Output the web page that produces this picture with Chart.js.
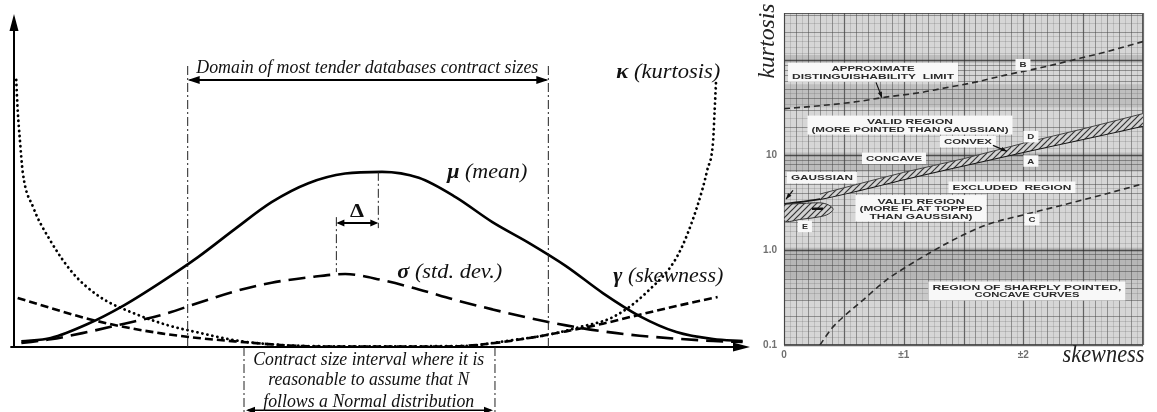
<!DOCTYPE html>
<html>
<head>
<meta charset="utf-8">
<script src="https://cdn.jsdelivr.net/npm/chart.js@4.4.1/dist/chart.umd.min.js"></script>
<style>
html, body { margin: 0; padding: 0; background: #fff; overflow: hidden; }
#wrap { position: relative; width: 1157px; height: 412px; }
#left { position: absolute; left: 0; top: 0; }
#right { position: absolute; left: 750px; top: 0; }
</style>
</head>
<body>
<div id="wrap">
<canvas id="left" width="760" height="412"></canvas>
<canvas id="right" width="407" height="412"></canvas>
</div>
<script>
// ---- left panel: moments of N against contract size (arbitrary 0-100 units) ----
var sizeGrid   = [1, 5, 10, 15, 20, 25, 30, 35, 40, 45, 50, 55, 60, 65, 70, 75, 80, 85, 90, 95, 99];
var meanValues = [1.7, 2.7, 6.9, 12.6, 19.5, 27.0, 35.4, 43.5, 49.2, 52.1, 52.6, 50.8, 45.0, 37.5, 31.2, 24.3, 16.2, 9.3, 4.5, 2.4, 1.8];
var stdValues  = [1.2, 2.3, 4.5, 7.0, 9.6, 13.2, 16.7, 19.3, 20.9, 21.9, 20.1, 17.3, 14.1, 11.3, 8.7, 6.5, 4.7, 3.4, 2.5, 1.8, 1.5];

var skewSizes  = [0.5, 5, 10, 15, 20, 25, 30, 35, 40, 45, 50, 55, 60, 65, 70, 75, 80, 85, 90, 95.6];
var skewValues = [14.7, 11.7, 8.5, 6.0, 4.1, 2.7, 1.7, 0.8, 0.2, 0.1, 0.1, 0.1, 0.2, 1.1, 2.7, 4.7, 7.0, 9.7, 12.3, 15.0];

var kurtSizes  = [0.3, 0.5, 0.8, 1.2, 2.6, 4.9, 8.0, 11.7, 16.2, 20.8, 25.3, 29.8, 34.4, 43.3, 49.7, 61.0, 67.8, 72.4, 76.9, 81.4, 86.0, 90.2, 92.8, 94.2, 95.0, 95.2, 95.4];
var kurtValues = [80.2, 71.2, 62.2, 52.3, 42.0, 32.1, 22.2, 15.0, 10.2, 6.6, 4.2, 2.1, 0.9, 0.2, 0.2, 0.3, 2.1, 3.6, 6.0, 9.0, 16.5, 27.6, 42.0, 53.2, 62.2, 71.2, 80.2];

var domainEdges = [23.6, 72.6];     // contract sizes covered by most tender databases
var normalEdges = [31.25, 65.35];   // interval where N ~ Normal
var meanPeak = 49.5, stdPeak = 43.8;

// ---- right panel: kurtosis vs skewness (log) ----
var limitSkew  = [0, 0.3, 0.6, 0.85, 1.15, 1.3, 1.6, 1.85, 2.15, 2.4, 2.7, 3.0];
var limitKurt  = [31, 33.3, 36.6, 41, 46, 50, 59, 70, 84, 100, 124, 158];
var gaussSkew  = [0, 0.3, 0.6, 1.0, 1.5, 2.0, 2.5, 3.0];
var gaussKurt  = [3.05, 3.45, 4.2, 5.6, 7.8, 10.8, 14.8, 20.5];
var convexSkew = [0.3, 0.6, 1.0, 1.5, 2.0, 2.5, 3.0];
var convexKurt = [3.9, 4.9, 6.6, 9.2, 13.4, 19.0, 27.5];
var flatSkew   = [0, 0.15, 0.3, 0.37, 0.41, 0.37, 0.3, 0.15, 0, 0];
var flatKurt   = [3.05, 3.1, 3.15, 3.0, 2.7, 2.4, 2.25, 2.12, 2.05, 3.05];
var sharpSkew  = [0.30, 0.40, 0.50, 0.65, 0.86, 1.0, 1.22, 1.5, 1.72, 2.03, 2.58, 3.0];
var sharpKurt  = [0.10, 0.15, 0.20, 0.29, 0.49, 0.64, 0.94, 1.45, 1.9, 2.4, 3.6, 5.0];

var skewTicks = [0, 1, 2];
var skewTickLabels = ['0', '\u00b11', '\u00b12'];
var kurtTicks = [0.1, 1, 10];
var kurtTickLabels = ['0.1', '1.0', '10'];

var SERIF = "'Liberation Serif', 'DejaVu Serif', serif";
function it(s) { return 'italic ' + s + 'px ' + SERIF; }
function bi(s) { return 'italic bold ' + s + 'px ' + SERIF; }
var dashDot = [9, 3, 2, 3];

function pts(xs, ys) {
    return xs.map(function (x, i) { return { x: x, y: ys[i] }; });
}

// draw a run of text pieces squeezed to a given width
function fitText(ctx, parts, cx, cy, width, baseline) {
    var total = 0;
    parts.forEach(function (p) { ctx.font = p.f; p.w = ctx.measureText(p.t).width; total += p.w; });
    ctx.save();
    ctx.translate(cx, cy);
    ctx.scale(width / total, 1);
    ctx.textAlign = 'left';
    ctx.textBaseline = baseline || 'middle';
    var x = -total / 2;
    parts.forEach(function (p) { ctx.font = p.f; ctx.fillText(p.t, x, 0); x += p.w; });
    ctx.restore();
}

function seg(ctx, x1, y1, x2, y2) {
    ctx.beginPath(); ctx.moveTo(x1, y1); ctx.lineTo(x2, y2); ctx.stroke();
}

function head(ctx, x, y, ang, len, half) {
    var c = Math.cos(ang), s = Math.sin(ang);
    ctx.beginPath();
    ctx.moveTo(x, y);
    ctx.lineTo(x - len * c + half * s, y - len * s - half * c);
    ctx.lineTo(x - len * c - half * s, y - len * s + half * c);
    ctx.closePath();
    ctx.fill();
}

function doubleArrow(ctx, x1, x2, y, len, half) {
    seg(ctx, x1 + 2, y, x2 - 2, y);
    head(ctx, x1, y, Math.PI, len, half);
    head(ctx, x2, y, 0, len, half);
}

var leftLabels = [
    { parts: [{ t: 'Domain of most tender databases contract sizes', f: it(19) }], x: 48.0, y: 83.8, w: 342 },
    { parts: [{ t: '\u03ba', f: bi(20) }, { t: ' (kurtosis)', f: it(20) }], x: 88.9, y: 82.3, w: 104 },
    { parts: [{ t: '\u03bc', f: bi(20) }, { t: ' (mean)', f: it(20) }], x: 64.3, y: 52.3, w: 80 },
    { parts: [{ t: '\u03c3', f: bi(20) }, { t: ' (std. dev.)', f: it(20) }], x: 59.2, y: 22.2, w: 105 },
    { parts: [{ t: '\u03b3', f: bi(20) }, { t: ' (skewness)', f: it(20) }], x: 88.9, y: 21.0, w: 110 },
    { parts: [{ t: '\u0394', f: 'bold 18px ' + SERIF }], x: 46.6, y: 40.5, w: 14 },
    { parts: [{ t: 'Contract size interval where it is', f: it(19) }], x: 48.2, y: -3.9, w: 231 },
    { parts: [{ t: 'reasonable to assume that N', f: it(19) }], x: 48.2, y: -9.9, w: 201 },
    { parts: [{ t: 'follows a Normal distribution', f: it(19) }], x: 48.2, y: -16.5, w: 211 }
];

var leftMarks = {
    id: 'leftMarks',
    afterDatasetsDraw: function (chart) {
        var ctx = chart.ctx;
        var X = function (v) { return chart.scales.x.getPixelForValue(v); };
        var Y = function (v) { return chart.scales.y.getPixelForValue(v); };
        ctx.save();
        ctx.strokeStyle = '#000';
        ctx.fillStyle = '#000';

        // axes
        ctx.lineWidth = 2;
        seg(ctx, X(-0.5), Y(0), X(100) - 10, Y(0));
        seg(ctx, X(0), Y(0), X(0), Y(100) + 10);
        head(ctx, X(100), Y(0), 0, 17, 4.5);
        head(ctx, X(0), Y(100), -Math.PI / 2, 17, 4.5);

        // dash-dot guides
        ctx.lineWidth = 1;
        ctx.strokeStyle = '#222';
        ctx.setLineDash(dashDot);
        domainEdges.forEach(function (v) { seg(ctx, X(v), Y(0), X(v), Y(84.4)); });
        normalEdges.forEach(function (v) { seg(ctx, X(v), Y(0), X(v), Y(-21)); });
        seg(ctx, X(meanPeak), Y(52.6), X(meanPeak), Y(35.7));
        seg(ctx, X(stdPeak), Y(39.0), X(stdPeak), Y(22.5));
        ctx.setLineDash([]);

        // arrows
        ctx.strokeStyle = '#000';
        ctx.lineWidth = 2;
        doubleArrow(ctx, X(domainEdges[0]), X(domainEdges[1]), Y(80.2), 12, 4);
        doubleArrow(ctx, X(stdPeak), X(meanPeak), Y(37.2), 8, 3.5);
        ctx.lineWidth = 1.5;
        doubleArrow(ctx, X(normalEdges[0]) + 2, X(normalEdges[1]) - 2, Y(-19), 9, 3.5);

        // labels
        ctx.fillStyle = '#111';
        leftLabels.forEach(function (l) { fitText(ctx, l.parts, X(l.x), Y(l.y), l.w); });
        ctx.restore();
    }
};

new Chart(document.getElementById('left').getContext('2d'), {
    type: 'line',
    data: {
        datasets: [{
            label: 'mean',
            data: pts(sizeGrid, meanValues),
            borderColor: '#000',
            borderWidth: 2.6
        }, {
            label: 'std. dev.',
            data: pts(sizeGrid, stdValues),
            borderColor: '#000',
            borderWidth: 2.6,
            borderDash: [17, 8]
        }, {
            label: 'skewness',
            data: pts(skewSizes, skewValues),
            borderColor: '#000',
            borderWidth: 2.6,
            borderDash: [8, 4]
        }, {
            label: 'kurtosis',
            data: pts(kurtSizes, kurtValues),
            borderColor: '#000',
            borderWidth: 2.8,
            borderDash: [0.1, 5],
            borderCapStyle: 'round'
        }]
    },
    options: {
        responsive: false,
        animation: false,
        devicePixelRatio: 1,
        events: [],
        layout: { padding: { left: 14, right: 10, top: 14, bottom: 65 } },
        elements: {
            point: { radius: 0 },
            line: { cubicInterpolationMode: 'monotone', fill: false }
        },
        datasets: { line: { clip: false } },
        scales: {
            x: { type: 'linear', min: 0, max: 100, display: false },
            y: { type: 'linear', min: 0, max: 100, display: false }
        },
        plugins: { legend: { display: false }, tooltip: { enabled: false } }
    },
    plugins: [leftMarks]
});

// ---- right panel ----
var rightNotes = [
    { lines: ['APPROXIMATE', 'DISTINGUISHABILITY  LIMIT'], sk: 0.744, ku: 75, w: [83, 162] },
    { lines: ['B'], sk: 1.997, ku: 90, w: [7] },
    { lines: ['VALID REGION', '(MORE POINTED THAN GAUSSIAN)'], sk: 1.053, ku: 20.8, w: [86, 197] },
    { lines: ['D'], sk: 2.063, ku: 15.7, w: [7] },
    { lines: ['CONVEX'], sk: 1.537, ku: 13.9, w: [48] },
    { lines: ['CONCAVE'], sk: 0.919, ku: 9.3, w: [56] },
    { lines: ['A'], sk: 2.063, ku: 8.7, w: [7] },
    { lines: ['GAUSSIAN'], sk: 0.317, ku: 5.8, w: [62] },
    { lines: ['EXCLUDED  REGION'], sk: 1.905, ku: 4.6, w: [119] },
    { lines: ['VALID REGION', '(MORE FLAT TOPPED', 'THAN GAUSSIAN)'], sk: 1.145, ku: 2.76, w: [87, 123, 103] },
    { lines: ['E'], sk: 0.175, ku: 1.78, w: [6] },
    { lines: ['C'], sk: 2.072, ku: 2.1, w: [7] },
    { lines: ['REGION OF SHARPLY POINTED,', 'CONCAVE CURVES'], sk: 2.03, ku: 0.371, w: [189, 105] }
];
var rightPointers = [
    { from: [0.769, 58.7], to: [0.819, 40.3] },
    { from: [1.746, 12.7], to: [1.863, 11.0] },
    { from: [0.075, 4.27], to: [0.017, 3.45] }
];
var paperBands = [[94, 114, 0.14], [32, 56, 0.13], [6.7, 10.7, 0.15], [0.5, 1.06, 0.18], [0.3, 0.5, 0.07]];
var mantissas = [1, 1.2, 1.4, 1.6, 1.8, 2, 2.5, 3, 3.5, 4, 4.5, 5, 6, 7, 8, 9];

function makeHatch(ctx) {
    var c = document.createElement('canvas');
    c.width = 6; c.height = 6;
    var g = c.getContext('2d');
    g.fillStyle = '#d2d2d2';
    g.fillRect(0, 0, 6, 6);
    g.strokeStyle = '#333';
    g.lineWidth = 1.2;
    g.beginPath();
    g.moveTo(0, 6); g.lineTo(6, 0);
    g.moveTo(-1, 1); g.lineTo(1, -1);
    g.moveTo(5, 7); g.lineTo(7, 5);
    g.stroke();
    return ctx.createPattern(c, 'repeat');
}

var paper = {
    id: 'paper',
    beforeDatasetsDraw: function (chart) {
        var ctx = chart.ctx, a = chart.chartArea;
        var xs = chart.scales.x, ys = chart.scales.y;
        ctx.save();
        ctx.fillStyle = '#d6d6d6';
        ctx.fillRect(a.left, a.top, a.width, a.height);
        paperBands.forEach(function (b) {
            var t = ys.getPixelForValue(b[1]), btm = ys.getPixelForValue(b[0]);
            ctx.fillStyle = 'rgba(40,40,40,' + b[2] + ')';
            ctx.fillRect(a.left, t, a.width, btm - t);
        });
        var i, px;
        for (i = 0; i <= 60; i++) {
            px = Math.round(xs.getPixelForValue(i * 0.05)) + 0.5;
            if (i % 10 === 0) { ctx.strokeStyle = 'rgba(50,50,50,0.7)'; ctx.lineWidth = 1.2; }
            else if (i % 2 === 0) { ctx.strokeStyle = 'rgba(70,70,70,0.5)'; ctx.lineWidth = 1; }
            else { ctx.strokeStyle = 'rgba(100,100,100,0.28)'; ctx.lineWidth = 0.8; }
            seg(ctx, px, a.top, px, a.bottom);
        }
        for (var d = -1; d <= 2; d++) {
            mantissas.forEach(function (m) {
                var v = m * Math.pow(10, d);
                if (v > ys.max) return;
                var py = Math.round(ys.getPixelForValue(v)) + 0.5;
                if (m === 1) { ctx.strokeStyle = 'rgba(40,40,40,0.75)'; ctx.lineWidth = 1.6; }
                else if (m === Math.floor(m)) { ctx.strokeStyle = 'rgba(70,70,70,0.5)'; ctx.lineWidth = 1; }
                else { ctx.strokeStyle = 'rgba(100,100,100,0.3)'; ctx.lineWidth = 0.8; }
                seg(ctx, a.left, py, a.right, py);
            });
        }
        ctx.strokeStyle = 'rgba(60,60,60,0.8)';
        ctx.lineWidth = 1;
        ctx.strokeRect(a.left + 0.5, a.top + 0.5, a.width - 1, a.height - 1);
        ctx.restore();
    },
    afterDatasetsDraw: function (chart) {
        var ctx = chart.ctx;
        var X = function (v) { return chart.scales.x.getPixelForValue(v); };
        var Y = function (v) { return chart.scales.y.getPixelForValue(v); };
        ctx.save();
        var lh = 7.5;
        rightNotes.forEach(function (n) {
            var cx = X(n.sk), cy = Y(n.ku);
            var bw = Math.max.apply(null, n.w) + 8, bh = n.lines.length * lh + 4;
            ctx.fillStyle = '#f8f8f8';
            ctx.fillRect(cx - bw / 2, cy - bh / 2, bw, bh);
            ctx.fillStyle = '#2a2a2a';
            n.lines.forEach(function (t, i) {
                fitText(ctx, [{ t: t, f: "bold 8px 'Liberation Sans', sans-serif" }],
                    cx, cy - (n.lines.length - 1) * lh / 2 + i * lh + 0.5, n.w[i]);
            });
        });
        ctx.strokeStyle = '#111';
        ctx.fillStyle = '#111';
        ctx.lineWidth = 1.2;
        rightPointers.forEach(function (p) {
            var x1 = X(p.from[0]), y1 = Y(p.from[1]), x2 = X(p.to[0]), y2 = Y(p.to[1]);
            seg(ctx, x1, y1, x2, y2);
            head(ctx, x2, y2, Math.atan2(y2 - y1, x2 - x1), 6, 2.2);
        });
        // marker inside the flat-topped region
        ctx.lineWidth = 2.5;
        seg(ctx, X(0.234), Y(2.73), X(0.326), Y(2.73));
        ctx.restore();
    },
    afterDraw: function (chart) {
        var ctx = chart.ctx;
        ctx.save();
        ctx.fillStyle = '#222';
        ctx.translate(24, 41);
        ctx.rotate(-Math.PI / 2);
        fitText(ctx, [{ t: 'kurtosis', f: it(24) }], 0, 0, 75, 'alphabetic');
        ctx.restore();
        ctx.save();
        ctx.fillStyle = '#222';
        fitText(ctx, [{ t: 'skewness', f: it(25) }], chart.scales.x.getPixelForValue(2.67), 362, 82, 'alphabetic');
        ctx.restore();
    }
};

var rctx = document.getElementById('right').getContext('2d');
var hatch = makeHatch(rctx);
var tickFont = { size: 10, weight: 'bold', family: "'Liberation Sans', sans-serif" };

new Chart(rctx, {
    type: 'line',
    data: {
        datasets: [{
            label: 'E',
            data: pts(flatSkew, flatKurt),
            borderColor: '#333',
            borderWidth: 1,
            backgroundColor: hatch,
            fill: 'shape',
            tension: 0.35,
            cubicInterpolationMode: 'default'
        }, {
            label: 'D',
            data: pts(convexSkew, convexKurt),
            borderColor: '#444',
            borderWidth: 1,
            backgroundColor: hatch,
            fill: '+1'
        }, {
            label: 'A',
            data: pts(gaussSkew, gaussKurt),
            borderColor: '#151515',
            borderWidth: 2
        }, {
            label: 'B',
            data: pts(limitSkew, limitKurt),
            borderColor: '#2a2a2a',
            borderWidth: 1.6,
            borderDash: [6, 4]
        }, {
            label: 'C',
            data: pts(sharpSkew, sharpKurt),
            borderColor: '#2a2a2a',
            borderWidth: 1.6,
            borderDash: [6, 4]
        }]
    },
    options: {
        responsive: false,
        animation: false,
        devicePixelRatio: 1,
        events: [],
        layout: { padding: { left: 0, right: 14, top: 3, bottom: 0 } },
        elements: {
            point: { radius: 0 },
            line: { cubicInterpolationMode: 'monotone', fill: false }
        },
        scales: {
            x: {
                type: 'linear', min: 0, max: 3,
                afterBuildTicks: function (s) { s.ticks = skewTicks.map(function (v) { return { value: v }; }); },
                afterFit: function (s) { s.height = 67; },
                ticks: {
                    callback: function (v, i) { return skewTickLabels[i]; },
                    font: tickFont, color: '#707070', padding: 4, maxRotation: 0, autoSkip: false
                },
                grid: { display: false, drawTicks: false },
                border: { display: false }
            },
            y: {
                type: 'logarithmic', min: 0.1, max: 316,
                afterBuildTicks: function (s) { s.ticks = kurtTicks.map(function (v) { return { value: v }; }); },
                afterFit: function (s) { s.width = 34; },
                ticks: {
                    callback: function (v, i) { return kurtTickLabels[i]; },
                    font: tickFont, color: '#707070', padding: 7, autoSkip: false
                },
                grid: { display: false, drawTicks: false },
                border: { display: false }
            }
        },
        plugins: { legend: { display: false }, tooltip: { enabled: false } }
    },
    plugins: [paper]
});
</script>
</body>
</html>
